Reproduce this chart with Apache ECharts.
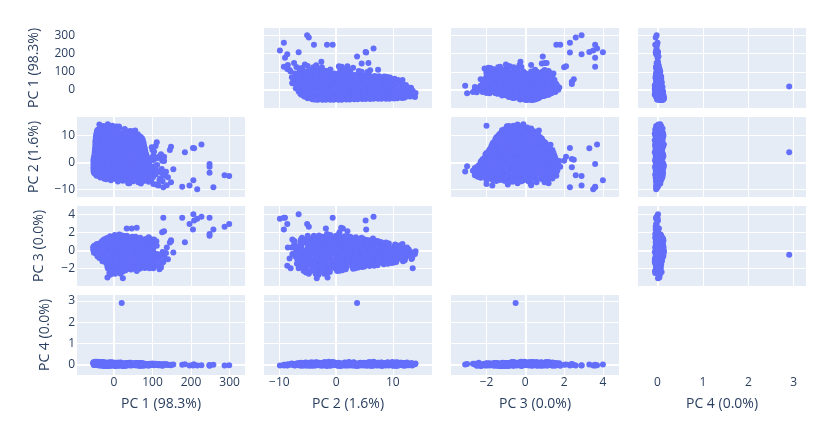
<!DOCTYPE html>
<html>
<head>
<meta charset="utf-8">
<script src="https://cdn.jsdelivr.net/npm/echarts@6/dist/echarts.min.js"></script>
<style>
  html, body { margin: 0; padding: 0; background: #fff; }
  #chart { width: 825px; height: 421px; }
</style>
</head>
<body>
<div id="chart"></div>
<script>
// axis titles and tick labels
const labels = ['PC 1 (98.3%)', 'PC 2 (1.6%)', 'PC 3 (0.0%)', 'PC 4 (0.0%)'];
const tickValues = [[0, 100, 200, 300], [-10, 0, 10], [-2, 0, 2, 4], [0, 1, 2, 3]];

// principal component scores, one entry per sample
const pc1 = [
  -38, -27, -16, -4, 6,
  -42, -31, -20, -9, 2, 14, 28,
  -45, -32, -18, -5, 10, 24, 40, 55,
  -47, -33, -19, -5, 9, 23, 38, 53, 68,
  -48, -36, -21, -9, 5, 18, 33, 46, 61, 74,
  -48, -36, -23, -11, 2, 14, 27, 39, 52, 64, 77,
  -49, -37, -26, -14, -2, 9, 21, 33, 44, 56, 68, 79,
  -50, -38, -26, -14, -2, 10, 22, 34, 46, 58, 70, 81,
  -51, -40, -29, -17, -6, 6, 17, 28, 39, 50, 62, 73, 84,
  -53, -42, -31, -21, -10, 0, 11, 22, 33, 44, 55, 66, 76, 87,
  -53, -42, -31, -20, -9, 2, 13, 24, 35, 46, 57, 68, 79, 90,
  -53, -43, -32, -22, -12, -1, 9, 19, 30, 40, 50, 61, 71, 81, 92,
  -53, -42, -32, -21, -10, 0, 11, 21, 32, 42, 53, 63, 74, 84, 95,
  -50, -39, -29, -18, -8, 3, 13, 24, 34, 45, 56, 66, 77, 87, 98,
  -35, -25, -15, -4, 6, 16, 27, 37, 47, 57, 68, 78, 88, 98,
  10, 23, 37, 50, 63, 77, 90, 40, 70,
  -35, -22, -10, 2, 13,
  -44, -30, -16, -2, 12, 28, 44,
  -46, -39, -25, -12, 3, 17, 31, 47, 62,
  -47, -41, -27, -13, 1, 15, 29, 44, 58, 72,
  -48, -42, -29, -16, -4, 9, 21, 34, 46, 59, 76,
  -48, -43, -31, -19, -7, 5, 17, 29, 41, 53, 66, 78,
  -49, -44, -32, -20, -8, 4, 15, 27, 39, 51, 62, 72, 80,
  -50, -45, -34, -23, -11, 0, 12, 24, 36, 48, 59, 67, 75, 82,
  -52, -46, -35, -25, -14, -3, 8, 19, 31, 42, 54, 65, 75, 85,
  -53, -48, -37, -26, -15, -5, 6, 16, 27, 38, 49, 59, 69, 79, 88,
  -53, -47, -37, -27, -17, -6, 4, 14, 25, 35, 45, 56, 66, 77, 91,
  -53, -48, -37, -27, -16, -6, 5, 16, 26, 37, 47, 58, 68, 79, 94,
  -52, -46, -36, -25, -15, -4, 6, 17, 27, 38, 48, 59, 69, 80, 96,
  -45, -36, -26, -16, -5, 5, 16, 27, 38, 49, 60, 71, 83, 98,
  -20, -8, 4, 16, 28, 40, 52, 63, 74, 85, 96,
  32, 32, 32, 32, 33, 31, 33, 31,
  44, 44, 45, 43, 44, 45, 43, 44,
  56, 56, 57, 55, 56, 57, 55, 56,
  68, 68, 69, 67, 68, 69, 67, 68,
  80, 80, 81, 79, 80, 81, 79, 80,
  92, 92, 93, 91, 92, 93, 91, 92,
  102, 103, 101, 102, 104,
  108, 112, 116, 120, 124, 128, 132, 104, 118, 126, 110, 98,
  -22, -18, -14, -10, -6, -2, 2, 6, 10, 14, 18, 22, 26, -20, -8, 4, 16, 24, 8, -4,
  -50, -47, -44, -41, -38, -35, -32, -29, -26, -46, -40, -34, -28, -52, -43,
  -40, -36, -30, -24, -18, -12, -8, -3, 3, 7, 12, 17, 21, 26, 30,
  35, 40, 50, 54, 62, 65, 74, 77, 86, 89, -28, -16, -6, 9, 45,
  105, 112, 118, 122, 108, 125, 130, 102, 115, 135, 100, 110, 140, 92, 59,
  299, 287, 258, 216, 248, 248, 248, 206, 196, 177, 227, 208, 205, 184, 148, 145,
  111, 154, 148, 137, 128, 125, 130, 46, 59, 33, 23, -17, -15, 37, 55, 20
];
const pc2 = [
  13.9, 13.4, 14.0, 13.5, 13.2,
  12.0, 12.6, 12.2, 12.5, 12.1, 12.7, 12.3,
  10.8, 11.3, 10.7, 11.2, 11.0, 10.6, 11.4, 10.9,
  9.4, 9.9, 9.3, 9.8, 9.5, 10.0, 9.2, 9.7, 9.5,
  8.0, 8.5, 7.9, 8.4, 8.1, 8.6, 7.8, 8.3, 8.0, 8.5,
  6.6, 7.1, 6.5, 7.0, 6.7, 7.2, 6.4, 6.9, 6.6, 7.1, 6.8,
  5.2, 5.7, 5.1, 5.6, 5.3, 5.8, 5.0, 5.5, 5.2, 5.7, 5.3, 5.5,
  3.8, 4.3, 3.7, 4.2, 3.9, 4.4, 3.6, 4.1, 3.8, 4.3, 3.9, 4.2,
  2.4, 2.9, 2.3, 2.8, 2.5, 3.0, 2.2, 2.7, 2.4, 2.9, 2.6, 2.3, 2.8,
  1.0, 1.5, 0.9, 1.4, 1.1, 1.6, 0.8, 1.3, 1.0, 1.5, 1.2, 0.9, 1.4, 1.1,
  -0.4, 0.1, -0.5, 0.0, -0.3, 0.2, -0.6, -0.1, -0.4, 0.1, -0.2, -0.5, 0.0, -0.3,
  -1.8, -1.3, -1.9, -1.4, -1.7, -1.2, -2.0, -1.5, -1.8, -1.3, -1.6, -1.9, -1.4, -1.7, -1.5,
  -3.2, -2.7, -3.3, -2.8, -3.1, -2.6, -3.4, -2.9, -3.2, -2.7, -3.0, -3.3, -2.8, -3.1, -2.9,
  -4.2, -4.7, -4.1, -4.6, -4.3, -4.8, -4.0, -4.5, -4.2, -4.7, -4.4, -4.1, -4.6, -4.3, -4.5,
  -5.6, -6.1, -5.5, -6.0, -5.7, -6.2, -5.5, -5.9, -5.6, -6.1, -5.8, -5.5, -6.0, -5.7,
  -7.1, -6.8, -7.3, -7.0, -7.4, -6.9, -7.2, -7.7, -7.8,
  13.1, 12.8, 13.3, 12.9, 13.2,
  11.6, 11.9, 11.5, 11.8, 11.6, 11.9, 11.5,
  10.2, 10.5, 10.1, 10.4, 10.2, 10.5, 10.1, 10.4, 10.3,
  8.8, 9.1, 8.7, 9.0, 8.8, 9.1, 8.7, 9.0, 8.9, 9.0,
  7.4, 7.7, 7.3, 7.6, 7.4, 7.7, 7.3, 7.6, 7.5, 7.3, 7.6,
  6.0, 6.3, 5.9, 6.2, 6.0, 6.3, 5.9, 6.2, 6.0, 6.3, 6.1, 5.9,
  4.6, 4.9, 4.5, 4.8, 4.6, 4.9, 4.5, 4.8, 4.6, 4.9, 4.7, 4.5, 4.8,
  3.2, 3.5, 3.1, 3.4, 3.2, 3.5, 3.1, 3.4, 3.3, 3.5, 3.1, 3.4, 3.2, 3.4,
  1.8, 2.1, 1.7, 2.0, 1.8, 2.1, 1.7, 2.0, 1.8, 2.1, 1.9, 1.7, 2.0, 1.8,
  0.4, 0.7, 0.3, 0.6, 0.4, 0.7, 0.3, 0.6, 0.5, 0.7, 0.3, 0.6, 0.4, 0.7, 0.5,
  -1.0, -0.7, -1.1, -0.8, -1.0, -0.7, -1.1, -0.8, -0.9, -0.7, -1.1, -0.8, -1.0, -0.7, -0.9,
  -2.4, -2.1, -2.5, -2.2, -2.4, -2.1, -2.5, -2.2, -2.3, -2.1, -2.5, -2.2, -2.4, -2.1, -2.3,
  -3.8, -3.5, -3.9, -3.6, -3.8, -3.5, -3.9, -3.6, -3.7, -3.5, -3.9, -3.6, -3.8, -3.5, -3.7,
  -5.0, -5.3, -4.9, -5.2, -5.0, -5.3, -4.9, -5.2, -5.1, -5.3, -4.9, -5.2, -5.0, -5.1,
  -6.3, -6.6, -6.2, -6.5, -6.4, -6.6, -6.2, -6.5, -6.3, -6.6, -6.4,
  6.5, -5.0, 2.0, -2.0, 4.5, -3.8, 0.0, 7.5,
  -1.0, 5.5, -4.5, 1.5, -6.0, 3.0, -2.5, 7.0,
  2.5, -3.5, 6.0, -5.5, 0.5, -1.5, 4.0, -6.5,
  -2.0, 3.5, -5.0, 1.0, -3.5, 5.5, -0.5, -6.8,
  1.5, -4.0, 3.0, -1.0, -5.5, 0.0, -2.5, 2.5,
  -1.5, -4.8, 0.5, -3.0, -6.0, 1.5, -5.2, -2.5,
  -3.0, 0.8, -5.5, 2.5, -1.5,
  -4.5, -1.0, 2.0, -6.0, -2.5, 1.0, -5.0, 4.0, -3.5, -7.0, -8.2, 5.5,
  5.0, -2.0, 8.0, 1.5, -4.0, 4.5, -1.0, 3.5, -5.0, 0.5, 3.0, -3.0, 2.0, 10.5, 11.0, 9.0, 7.5, -6.0, -2.5, 3.0,
  -2.5, 6.0, -4.0, 10.0, 2.0, 12.5, -1.0, 8.0, -5.5, 3.0, -2.0, 5.0, 11.5, -3.5, 7.5,
  1.0, -2.5, 4.0, -1.5, 3.5, -3.0, 2.0, -0.5, 5.0, -2.0, 1.5, -4.0, 4.5, 0.0, -3.0,
  2.5, -1.0, 3.5, -2.0, 1.0, -4.5, 2.0, -1.5, 0.5, -3.5, 6.0, 0.5, 6.5, -5.0, 5.5,
  -2.0, 1.5, -6.5, 3.0, 6.0, -4.0, 0.5, -8.0, -8.6, -3.5, 4.5, -3.0, -5.5, -3.5, -2.5,
  -5.1, -4.8, -9.2, -9.9, -3.9, -1.6, -0.6, -6.6, -8.6, -9.0, 6.6, 5.2, 5.3, 3.7, 5.7, 4.5,
  7.4, -2.6, -7.4, -8.5, -9.2, 0.6, 2.0, 1.2, 0.9, -1.8, -3.4, -1.5, 13.5, -7.7, 11.7, 3.7
];
const pc3 = [
  -0.4, -0.85, -0.1, -0.6, -0.25,
  0.1, -0.35, -0.85, 0.3, -1.1, -0.1, -0.6,
  -0.05, 0.55, -1.05, -0.3, 0.25, -1.3, -0.55, -0.8,
  0.2, -0.6, 0.75, -1.4, -0.06, -0.86, 0.47, -1.13, -0.33,
  0.35, -0.73, 0.9, -1.55, -0.19, 0.62, -1.28, 0.08, -1.0, -0.46,
  -0.05, 0.78, -1.15, 1.05, -1.7, 0.23, -0.6, -1.42, 0.5, -0.87, -0.32,
  0.36, -0.72, 0.9, -1.26, -1.53, -0.45, -1.8, 0.63, -0.99, 0.09, 1.15, -0.18,
  0.1, 0.67, -1.04, 1.25, -1.9, -0.19, -0.76, -1.33, 0.39, -1.61, -0.47, 0.96,
  0.5, -0.35, 1.07, -1.48, 1.35, -2.05, 0.22, -0.92, -0.63, -1.77, -0.07, -1.2, 0.78,
  0.29, 0.57, -0.82, 1.12, -2.2, 0.85, 1.4, -1.37, -0.54, -1.92, 0.02, -1.09, -0.26, -1.65,
  0.02, -0.56, 0.6, -1.43, 1.18, -2.3, -0.27, -2.01, -1.14, -0.85, 0.31, -1.72, 0.89, 1.45,
  0.36, -0.21, 0.93, -1.07, -2.5, 1.5, -1.93, 0.64, -2.21, -0.79, -0.5, 0.07, -1.64, 1.21, -1.36,
  0.0, 0.6, -0.9, 0.9, -2.7, -1.5, -2.4, 1.5, -0.3, -2.1, 1.2, -1.2, 0.3, -1.8, -0.6,
  0.33, -0.55, 0.62, -1.43, 1.21, -2.6, 0.04, -2.31, -1.13, -0.84, 0.92, -2.01, -0.26, -1.72, 1.2,
  -0.31, 0.83, -1.16, 1.4, -2.3, 0.26, -1.73, -1.45, -0.6, 0.54, -2.02, -0.03, 1.11, -0.88,
  0.17, -1.08, 1.0, -0.25, 0.58, -1.5, -0.67, -0.4, 0.3,
  -0.2, 0.1, -0.95, -0.45, -0.7,
  0.15, -0.5, 0.4, -1.2, -0.7, -0.15, -0.95,
  0.4, -0.1, -0.6, 0.65, -1.35, 0.15, -0.85, -0.35, -1.1,
  -0.2, 0.58, -0.98, 0.32, 0.85, -1.5, 0.06, -0.72, -1.24, -0.46,
  0.21, -0.59, 0.74, -1.38, 1.0, -0.85, -1.65, 0.47, -1.12, -0.06, -0.32,
  0.07, 0.59, -0.71, 0.85, -1.23, 1.1, -1.75, 0.33, -0.97, -0.19, -1.49, -0.45,
  -0.07, 0.44, -0.58, 0.95, -1.6, 1.2, -1.09, 0.19, -1.85, 0.7, -0.32, -1.34, -0.83,
  0.29, -0.22, 0.8, -0.98, 1.3, -1.75, 0.55, -2.0, 1.06, -0.47, -1.24, 0.04, -1.49, -0.73,
  0.06, 0.6, -0.48, 0.87, -1.56, 1.4, -2.1, 1.14, -1.02, 0.33, -1.83, -0.21, -1.29, -0.75,
  0.38, -0.14, 0.65, -1.2, 1.18, -1.99, 0.91, -2.25, 1.45, -0.67, 0.12, -1.46, -0.41, -1.72, -0.93,
  0.12, 0.4, -0.72, 0.96, -1.84, 1.24, -2.4, 1.5, -1.28, 0.68, -2.12, -0.44, -0.16, -1.0, -1.56,
  0.33, -0.26, 0.62, -1.14, 1.21, -2.6, 0.91, -2.31, 1.5, -1.43, 0.04, -2.01, -0.55, -1.72, -0.84,
  -0.26, 0.62, 0.04, 1.21, -2.01, 0.91, -1.43, -2.6, 0.33, -0.84, 1.5, -1.72, -0.55, -1.95, -1.14,
  0.25, -0.65, 0.85, -1.55, 1.45, -2.45, -0.05, -2.15, 1.15, -0.95, 0.55, -1.85, -0.35, -1.25,
  0.24, -1.04, 0.88, -1.68, 0.56, -2.0, 1.2, -0.72, -1.36, -0.08, -0.4,
  1.3, -1.6, 0.2, -0.6, -1.0, 0.9, 1.6, -0.3,
  1.45, -0.2, 0.5, -1.4, -0.9, 0.95, -1.9, 0.3,
  1.5, -0.4, -1.1, 1.0, -1.7, 0.25, 0.6, -1.3,
  1.4, -0.7, 0.1, 0.8, -1.5, 0.4, -0.2, -1.0,
  1.2, 0.5, -0.5, -1.3, 0.95, 0.2, -1.85, -0.1,
  1.0, 0.4, -0.3, -1.1, 0.0, 0.7, -1.5, 1.3,
  0.3, -0.6, 0.9, -0.1, 1.2,
  -1.5, -0.4, -1.0, -1.8, -0.6, -1.3, -0.9, -1.8, -2.1, -0.2, -0.9, -1.6,
  1.2, 1.35, 0.85, 1.55, 1.3, 1.4, 1.7, 1.45, 1.6, 1.75, 1.3, 1.65, 1.5, 0.55, 0.4, 0.75, 0.95, 1.0, 1.2, 0.95,
  0.45, -0.3, 0.7, 0.0, -0.85, -0.5, 0.95, 0.4, -1.0, 0.55, 0.25, -0.2, -0.9, 0.15, -0.65,
  -0.4, 0.3, -1.2, 0.1, -0.5, 0.6, -1.0, 0.2, -0.7, -1.3, 0.5, -0.2, -1.6, 0.0, -1.0,
  0.7, -1.7, -0.6, 0.4, -1.9, -0.4, 0.6, -1.2, 0.1, -0.9, 0.2, -1.5, 0.4, 0.9, -1.3,
  -1.0, -1.6, -0.5, -1.9, -1.2, -1.4, -0.8, -2.0, -1.7, -0.3, 0.6, 1.0, -1.0, -2.0, -2.3,
  2.9, 2.6, 2.3, 3.5, 1.6, 1.8, 3.6, 4.0, 2.9, 3.6, 3.7, 3.3, 2.3, 0.9, 1.1, 0.85,
  0.5, -0.25, 1.0, 0.3, 3.6, 2.0, 2.1, 2.4, 2.5, 2.4, -3.1, -3.0, -2.0, 1.2, 0.7, -0.5
];
const pc4 = [
  0.02, -0.03, 0.06, 0.0, 0.04,
  0.08, -0.02, 0.03, 0.11, -0.05, 0.01, 0.05,
  0.12, 0.0, -0.04, 0.07, 0.03, -0.06, 0.09, 0.02,
  0.05, 0.13, -0.03, 0.01, 0.08, -0.05, 0.04, 0.0, 0.06,
  0.1, -0.02, 0.06, 0.03, -0.06, 0.08, 0.01, 0.04, -0.03, 0.02,
  0.14, 0.04, -0.05, 0.09, 0.0, 0.06, -0.02, 0.03, 0.07, -0.04, 0.01,
  0.07, 0.12, 0.02, -0.04, 0.05, 0.09, -0.01, 0.03, 0.06, 0.0, -0.03, 0.04,
  0.03, 0.1, -0.06, 0.05, 0.01, 0.08, 0.04, -0.03, 0.02, 0.06, 0.0, -0.02,
  0.09, 0.0, 0.13, -0.04, 0.06, 0.02, 0.08, -0.01, 0.04, 0.01, 0.05, -0.03, 0.02,
  0.05, 0.11, -0.03, 0.07, 0.02, 0.09, -0.05, 0.04, 0.0, 0.06, -0.02, 0.03, 0.01, 0.04,
  0.12, -0.02, 0.06, 0.03, 0.1, -0.04, 0.05, 0.01, 0.07, -0.01, 0.03, 0.06, 0.0, 0.02,
  0.04, 0.14, 0.01, 0.08, -0.05, 0.06, 0.02, 0.09, -0.02, 0.05, 0.0, 0.07, -0.03, 0.03, 0.01,
  0.11, 0.03, 0.07, -0.04, 0.05, 0.0, 0.09, 0.02, 0.06, -0.02, 0.04, 0.01, 0.08, -0.01, 0.03,
  0.02, 0.09, -0.03, 0.06, 0.12, 0.01, 0.04, -0.05, 0.07, 0.03, 0.0, 0.05, -0.02, 0.02, 0.04,
  0.06, 0.0, 0.1, 0.03, -0.04, 0.07, 0.02, 0.05, -0.01, 0.08, 0.01, 0.04, -0.03, 0.02,
  0.03, 0.07, -0.02, 0.05, 0.01, 0.04, -0.03, 0.02, 0.06,
  0.05, 0.01, 0.08, -0.02, 0.03,
  0.0, 0.06, 0.1, -0.03, 0.04, 0.02, 0.07,
  0.09, 0.02, -0.04, 0.06, 0.01, 0.11, -0.02, 0.04, 0.0,
  0.04, 0.12, 0.0, 0.07, -0.03, 0.05, 0.02, 0.09, -0.01, 0.03,
  0.01, 0.08, 0.05, -0.04, 0.1, 0.03, -0.02, 0.06, 0.0, 0.04, -0.01,
  0.06, 0.0, 0.11, 0.03, -0.03, 0.07, 0.02, -0.05, 0.05, 0.01, 0.08, -0.02,
  0.02, 0.1, -0.02, 0.05, 0.08, 0.0, 0.04, -0.04, 0.06, 0.01, 0.03, -0.01, 0.05,
  0.07, 0.03, 0.12, -0.03, 0.05, 0.01, 0.09, -0.02, 0.04, 0.0, 0.06, 0.02, -0.04, 0.03,
  0.03, 0.09, 0.0, 0.06, -0.04, 0.11, 0.02, 0.05, -0.01, 0.07, 0.01, 0.04, -0.02, 0.03,
  0.1, 0.02, -0.03, 0.07, 0.04, 0.0, 0.08, -0.05, 0.03, 0.06, 0.01, 0.05, -0.02, 0.02, 0.04,
  0.05, 0.13, 0.01, 0.06, -0.03, 0.08, 0.0, 0.04, -0.02, 0.07, 0.02, 0.05, -0.04, 0.03, 0.01,
  0.08, 0.01, 0.05, -0.02, 0.1, 0.03, 0.06, 0.0, -0.04, 0.04, 0.02, 0.07, -0.01, 0.03, 0.05,
  0.0, 0.09, 0.04, 0.12, -0.03, 0.06, 0.02, 0.05, -0.01, 0.07, 0.03, 0.0, 0.05, -0.02, 0.02,
  0.04, 0.11, 0.0, 0.07, 0.02, -0.03, 0.05, 0.01, 0.08, -0.02, 0.03, 0.06, -0.01, 0.02,
  0.06, 0.0, 0.09, 0.03, -0.03, 0.05, 0.01, 0.07, -0.02, 0.04, 0.02,
  0.03, -0.02, 0.06, 0.01, 0.04, -0.01, 0.08, 0.02,
  0.05, 0.0, 0.03, 0.07, -0.03, 0.02, 0.04, 0.01,
  0.02, 0.05, -0.02, 0.03, 0.0, 0.06, 0.01, -0.01,
  0.04, 0.0, 0.02, -0.03, 0.05, 0.01, 0.03, -0.01,
  0.01, 0.03, -0.02, 0.02, 0.0, 0.04, -0.01, 0.02,
  0.0, 0.02, -0.02, 0.03, 0.01, -0.01, 0.02, 0.0,
  0.01, -0.02, 0.02, 0.0, 0.03,
  0.0, 0.02, -0.01, 0.01, -0.03, 0.02, 0.0, 0.03, -0.02, 0.01, 0.0, -0.01,
  0.06, 0.02, 0.1, -0.03, 0.04, 0.08, 0.0, 0.05, -0.02, 0.07, 0.03, 0.01, 0.06, 0.09, -0.04, 0.05, 0.02, 0.04, 0.0, 0.07,
  0.08, 0.12, 0.03, 0.1, -0.02, 0.06, 0.04, 0.11, 0.0, 0.05, 0.13, 0.02, 0.07, -0.01, 0.09,
  0.05, 0.02, 0.07, 0.01, 0.06, 0.0, 0.04, 0.08, 0.02, 0.05, -0.01, 0.03, 0.06, 0.01, 0.04,
  0.0, 0.03, 0.02, 0.05, 0.01, 0.03, 0.0, 0.02, 0.01, -0.01, 0.09, 0.03, 0.05, 0.02, 0.04,
  0.02, -0.01, 0.04, 0.0, 0.05, -0.03, 0.01, 0.03, -0.02, 0.02, 0.06, 0.0, -0.01, 0.03, 0.01,
  -0.02, -0.04, 0.0, -0.03, -0.01, -0.05, -0.02, 0.01, -0.03, 0.0, -0.02, 0.01, -0.04, 0.02, 0.0, -0.01,
  0.03, 0.01, -0.02, 0.02, -0.03, 0.0, 0.01, 0.02, -0.01, 0.03, 0.01, 0.04, 0.02, 0.0, 0.05, 2.9
];

const pcs = [pc1, pc2, pc3, pc4];
const xRanges = [[-96, 340], [-12.7, 16.9], [-3.83, 4.83], [-0.43, 3.27]];
const yRanges = [[-98, 339], [-12.8, 16.7], [-3.95, 4.9], [-0.48, 3.27]];
const colLeft = [77, 264, 451, 638];
const rowTop = [28, 117, 206, 295];
const cellW = 168, cellH = 80;
const yNameGap = [36, 36, 31, 25];

const font = 'Open Sans';
const textColor = '#2a3f5f';
const fmt = v => String(v).replace('-', '\u2212');

const grid = [], xAxis = [], yAxis = [], series = [];
for (let r = 0; r < 4; r++) {
  for (let c = 0; c < 4; c++) {
    const idx = grid.length;
    const diag = r === c;
    grid.push({
      left: colLeft[c], top: rowTop[r], width: cellW, height: cellH,
      show: !diag, backgroundColor: '#E5ECF6', borderWidth: 0,
      containLabel: false, outerBoundsMode: 'none'
    });
    xAxis.push({
      gridIndex: idx, type: 'value', min: xRanges[c][0], max: xRanges[c][1],
      axisLine: { show: false },
      axisTick: { show: false, customValues: tickValues[c] },
      axisLabel: {
        show: r === 3, customValues: tickValues[c], formatter: fmt,
        color: textColor, fontSize: 12, fontFamily: font, margin: 2
      },
      splitLine: { show: !diag, lineStyle: { color: '#ffffff', width: 1 } },
      name: r === 3 ? labels[c] : '', nameLocation: 'middle', nameGap: 22,
      nameTextStyle: { color: textColor, fontSize: 14, fontFamily: font }
    });
    yAxis.push({
      gridIndex: idx, type: 'value', min: yRanges[r][0], max: yRanges[r][1],
      axisLine: { show: false },
      axisTick: { show: false, customValues: tickValues[r] },
      axisLabel: {
        show: c === 0, customValues: tickValues[r], formatter: fmt,
        color: textColor, fontSize: 12, fontFamily: font, margin: 2
      },
      splitLine: { show: !diag, lineStyle: { color: '#ffffff', width: 1 } },
      name: c === 0 ? labels[r] : '', nameLocation: 'middle', nameRotate: 90,
      nameGap: yNameGap[r],
      nameTextStyle: { color: textColor, fontSize: 14, fontFamily: font }
    });
    if (diag) continue;
    series.push({
      type: 'scatter', xAxisIndex: idx, yAxisIndex: idx,
      data: pc1.map((_, i) => [pcs[c][i], pcs[r][i]]),
      symbolSize: 6, z: 3, silent: true,
      itemStyle: { color: '#636efa', opacity: 1 },
      markLine: {
        silent: true, symbol: 'none', z: 1, animation: false,
        label: { show: false },
        lineStyle: { color: '#ffffff', width: 2, type: 'solid' },
        data: [{ xAxis: 0 }, { yAxis: 0 }]
      }
    });
  }
}

const chart = echarts.init(document.getElementById('chart'));
chart.setOption({
  animation: false,
  backgroundColor: '#ffffff',
  grid, xAxis, yAxis, series
});
</script>
</body>
</html>
